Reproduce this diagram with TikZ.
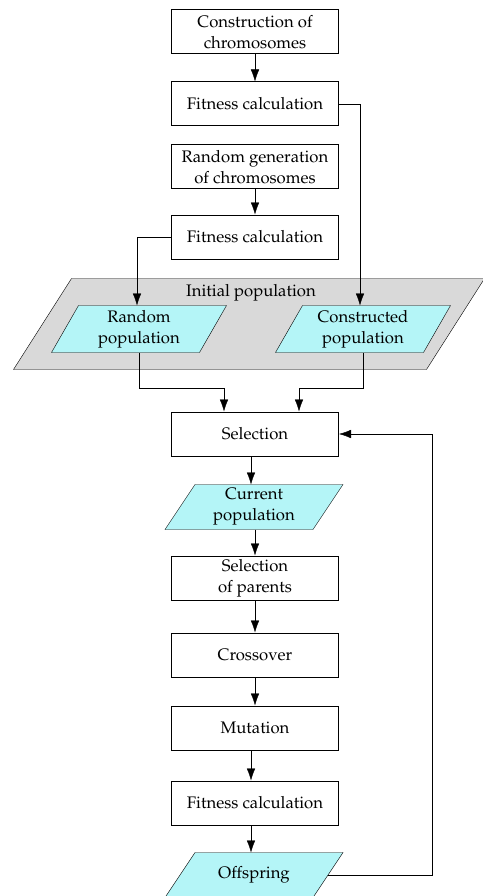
\documentclass[tikz,border=0pt]{standalone}
\usepackage[T1]{fontenc}
\usepackage{mathpazo}
\usetikzlibrary{arrows.meta, positioning, backgrounds}
\definecolor{popCyan}{HTML}{B4F5F7}
\definecolor{groupGray}{HTML}{D9D9D9}
\newcommand{\DrawSlanted}[3]{
    % #1: node name, #2: slant, #3: fill colour
    \draw[fill=#3] ([xshift=-0.5*#2]#1.south west) -- ([xshift=0.5*#2]#1.north west)
        -- ([xshift=0.5*#2]#1.north east) -- ([xshift=-0.5*#2]#1.south east) -- cycle;
}

\begin{document}
\begin{tikzpicture}[x=1pt, y=-1pt, line width=1pt,
    every node/.style={font=\fontsize{16.7}{21}\selectfont, align=center},
    stepbox/.style={draw, fill=white, minimum width=167pt, minimum height=44pt, inner sep=2pt},
    popbox/.style={minimum width=147pt, minimum height=44pt, inner sep=1pt},
    flow/.style={-{Latex[length=12pt, width=8.5pt]}}]
    \useasboundingbox (0,0) rectangle (482,896);

    % Construction branch
    \node[stepbox] (constr) at (255,32) {Construction of\\chromosomes};
    \node[stepbox] (fitA) at (255,104) {Fitness calculation};

    % Random branch
    \node[stepbox] (randgen) at (255,167) {Random generation\\of chromosomes};
    \node[stepbox] (fitB) at (255,237) {Fitness calculation};

    % Initial population group
    \node[minimum width=412pt, minimum height=90pt] (initpop) at (249,324) {};
    \node (initlabel) at (251,293) {Initial population};
    \node[popbox, minimum height=46pt] (randpop) at (139,329) {Random\\population};
    \node[popbox, minimum height=46pt] (conpop) at (363,329) {Constructed\\population};

    % Main loop
    \node[stepbox] (select) at (255,434) {Selection};
    \node[popbox] (curpop) at (254,507) {Current\\population};
    \node[stepbox] (parents) at (255,578) {Selection\\of parents};
    \node[stepbox] (cross) at (255,655) {Crossover};
    \node[stepbox] (mutate) at (255,728) {Mutation};
    \node[stepbox] (fitC) at (255,803) {Fitness calculation};
    \node[popbox] (offspr) at (254,875) {Offspring};

    % Parallelogram outlines
    \begin{pgfonlayer}{background}
        \DrawSlanted{initpop}{58}{groupGray}
        \DrawSlanted{randpop}{27}{popCyan}
        \DrawSlanted{conpop}{27}{popCyan}
        \DrawSlanted{curpop}{30}{popCyan}
        \DrawSlanted{offspr}{30}{popCyan}
    \end{pgfonlayer}

    % Connectors
    \draw[flow] (constr) -- (fitA);
    \draw[flow] (randgen) -- (fitB);
    \draw[flow] (fitA.east) -| ([xshift=-3pt]conpop.north);
    \draw[flow] (fitB.west) -| ([xshift=-2pt]randpop.north);
    \draw[flow] (randpop.south) -- ++(0,36) -| ([xshift=-31pt]select.north);
    \draw[flow] (conpop.south) -- ++(0,36) -| ([xshift=44pt]select.north);
    \draw[flow] ([xshift=-4pt]select.south) -- ([xshift=-4pt]select.south |- curpop.north);
    \draw[flow] ([xshift=1pt]curpop.south) -- ([xshift=1pt]curpop.south |- parents.north);
    \draw[flow] (parents) -- (cross);
    \draw[flow] (cross) -- (mutate);
    \draw[flow] ([xshift=-4pt]mutate.south) -- ([xshift=-4pt]mutate.south |- fitC.north);
    \draw[flow] ([xshift=-4pt]fitC.south) -- ([xshift=-4pt]fitC.south |- offspr.north);
    \draw[flow] (offspr.east) -- ++(104,0) |- (select.east);
\end{tikzpicture}
\end{document}
